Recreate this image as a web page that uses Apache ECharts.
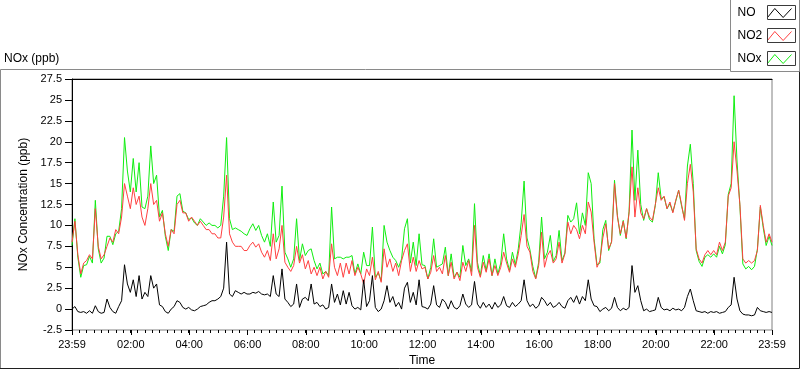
<!DOCTYPE html>
<html>
<head>
<meta charset="utf-8">
<script src="https://cdn.jsdelivr.net/npm/echarts@6/dist/echarts.min.js"></script>
<style>html,body{margin:0;padding:0;background:#fff}#c{width:800px;height:369px}</style>
</head>
<body>
<div id="c"></div>
<script>
// time axis: minutes since midnight; -1 = 23:59 of the previous day
const startMinute = -1;
const stepMinutes = 6;

const tickMinutes = [-1, 120, 240, 360, 480, 600, 720, 840, 960, 1080, 1200, 1320, 1439];
const tickLabels = ['23:59', '02:00', '04:00', '06:00', '08:00', '10:00', '12:00', '14:00', '16:00', '18:00', '20:00', '22:00', '23:59'];

const seriesNames = ['NO', 'NO2', 'NOx'];

const no = [
  0.0,0.3,-0.3,-0.4,-0.3,-0.5,-0.2,-0.5,0.4,-0.3,
  -0.5,-0.4,1.2,0.2,-0.3,-0.5,0.3,1.0,5.3,3.0,
  2.0,3.5,1.5,4.0,1.2,2.0,1.5,4.0,2.5,3.0,
  0.5,0.3,-0.3,-0.5,0.0,0.3,1.0,0.8,0.2,0.0,
  0.2,-0.1,-0.2,0.0,0.3,0.4,0.5,0.8,1.0,1.0,
  1.2,1.5,2.5,8.0,1.8,1.5,2.2,2.0,1.8,2.0,
  1.8,
  1.8,2.0,1.9,2.1,1.8,1.7,1.8,1.5,4.0,1.8,
  1.5,4.8,1.2,0.8,0.3,0.6,3.0,0.2,1.2,1.4,
  1.0,3.0,0.6,0.8,0.3,0.5,0.0,0.2,3.0,0.8,
  1.8,0.5,2.2,0.6,2.0,0.4,0.0,0.2,-0.1,3.5,
  0.3,1.0,4.0,0.2,-0.3,0.0,1.0,2.8,0.8,1.5,
  0.3,0.8,0.0,2.5,3.2,0.8,2.0,0.5,3.5,0.3,
  0.2,0.0,0.6,2.8,0.5,0.2,1.2,0.8,0.0,1.0,
  0.2,0.0,0.4,1.8,0.6,0.2,0.5,3.3,0.6,0.1,
  0.8,0.2,0.6,0.0,0.8,0.2,0.5,1.5,0.4,0.2,
  0.8,0.3,0.6,1.0,3.5,1.0,0.3,0.6,0.1,0.4,
  1.4,1.0,0.4,0.8,0.2,0.4,0.8,0.3,0.1,1.0,
  1.4,0.8,1.6,0.6,1.5,1.0,3.5,1.2,0.4,0.3,
  -0.3,0.0,0.2,-0.2,0.1,1.4,0.2,-0.2,0.1,-0.1,
  0.2,5.2,2.0,2.8,1.0,-0.2,0.0,-0.3,-0.2,-0.1,
  1.4,0.2,-0.1,0.0,-0.2,0.1,-0.1,0.0,-0.2,0.2,
  1.5,2.4,1.0,-0.2,-0.3,-0.4,-0.3,-0.5,-0.3,-0.4,
  -0.3,-0.5,-0.4,-0.3,0.2,0.5,3.8,1.2,-0.2,-0.6,
  -0.7,-0.7,-0.8,-0.7,0.2,-0.2,-0.3,-0.4,-0.3,-0.4
];

const no2 = [
  8.0,10.5,6.5,4.2,5.5,5.8,6.5,6.0,12.0,7.5,
  6.0,6.5,7.5,8.5,8.0,9.5,9.0,11.0,15.0,13.5,
  12.0,14.5,12.5,13.5,11.0,10.0,12.0,15.0,12.5,13.0,
  10.5,11.5,9.0,7.5,9.5,9.0,12.5,13.0,11.5,11.5,
  10.5,11.0,10.5,10.0,10.5,10.0,9.5,9.5,9.0,9.0,
  8.5,8.5,11.0,16.0,9.0,8.0,7.5,7.5,7.5,7.0,
  7.0,
  7.6,8.0,7.4,7.8,6.8,6.2,7.0,5.8,9.0,6.0,
  7.2,10.0,5.6,5.0,4.5,5.2,7.5,5.5,6.5,4.8,
  5.8,4.2,5.0,4.0,5.0,3.6,4.5,3.8,7.8,5.0,
  4.0,5.5,3.8,5.5,4.2,5.8,4.0,5.0,4.2,3.0,
  4.8,4.0,6.2,3.5,4.5,3.2,7.2,5.0,6.0,4.5,
  5.5,4.0,5.8,7.0,7.8,4.5,6.2,4.5,5.8,4.8,
  5.0,3.6,4.4,6.4,4.5,5.0,4.2,6.4,4.0,5.6,
  3.6,4.4,3.4,5.6,4.5,5.8,4.0,10.0,5.0,3.8,
  5.6,4.4,6.0,4.0,5.2,4.0,5.0,6.8,5.5,4.4,
  6.0,5.0,6.6,8.8,11.3,7.5,6.8,4.5,3.6,5.2,
  9.2,5.0,6.4,7.0,5.5,6.0,8.0,5.5,6.6,10.4,
  9.0,10.0,9.5,8.4,10.0,9.0,12.8,11.6,8.0,5.0,
  5.8,8.5,10.2,7.2,8.0,15.0,11.0,9.0,10.5,8.5,
  11.5,17.0,11.0,14.5,11.5,10.8,12.0,11.0,10.6,12.5,
  14.5,13.0,13.5,12.0,12.8,11.5,13.0,14.2,12.5,10.6,
  15.0,17.3,14.0,7.2,6.0,5.5,6.5,7.0,6.5,7.0,
  6.5,8.0,7.0,8.0,13.5,14.5,20.0,16.5,12.5,6.0,
  5.5,5.8,5.5,5.8,7.0,12.4,10.0,8.0,9.0,8.0
];

const nox = [
  7.6,10.8,6.2,3.8,5.2,5.3,6.3,5.5,13.0,7.2,
  5.5,6.1,8.7,8.7,7.7,9.0,9.3,12.0,20.5,16.5,
  14.0,18.0,14.0,17.5,12.2,12.0,13.5,19.5,15.0,16.0,
  11.0,11.8,8.7,7.0,9.5,9.3,13.5,13.8,11.7,11.5,
  10.7,10.9,10.3,10.0,10.8,10.4,10.0,10.3,10.0,10.0,
  9.7,10.0,13.5,20.5,10.8,9.5,9.7,9.5,9.3,9.0,
  8.8,
  9.6,10.2,9.4,10.0,8.8,8.0,9.0,7.5,12.8,8.0,
  8.8,14.7,6.8,6.0,5.0,6.0,10.8,5.8,7.8,6.4,
  7.0,7.2,5.8,4.8,5.5,4.2,4.5,4.0,12.2,6.0,
  6.2,6.2,6.0,6.2,6.2,6.4,4.2,5.4,4.2,6.8,
  5.2,5.2,9.8,3.8,4.3,3.4,10.0,8.0,7.0,6.2,
  5.8,5.0,6.0,9.6,10.8,5.5,8.0,5.2,9.0,5.3,
  5.2,3.6,5.0,8.4,5.0,5.2,5.4,7.4,4.0,6.6,
  3.8,4.4,3.8,7.6,5.2,6.0,4.5,12.6,5.6,4.0,
  6.4,4.6,6.6,4.0,6.0,4.2,5.5,9.0,6.0,4.6,
  6.8,5.3,7.2,10.3,15.3,8.5,7.1,5.1,3.7,5.6,
  11.0,6.0,6.8,8.8,5.7,6.4,9.4,5.8,6.7,11.2,
  10.4,10.8,12.7,9.0,11.5,10.0,16.3,15.0,8.4,5.3,
  5.5,9.5,10.6,7.0,8.1,15.4,11.2,8.8,10.6,8.4,
  11.7,21.4,13.0,19.0,12.5,10.6,12.0,10.7,10.4,12.4,
  16.3,13.2,13.4,12.0,12.6,11.6,12.9,14.2,12.3,10.8,
  17.1,19.7,15.0,7.0,5.7,5.1,6.2,6.5,6.2,6.6,
  6.2,7.5,6.6,7.7,13.7,15.0,25.5,17.7,12.3,5.4,
  4.8,5.1,4.7,5.1,7.2,12.2,9.7,7.6,8.7,7.6
];

const FONT = '"Liberation Sans", Arial, sans-serif';
const colors = { NO: '#000000', NO2: '#ff4040', NOx: '#10ee10' };

const toPairs = arr => arr.map((v, i) => [startMinute + i * stepMinutes, v]);

const minorTicks = [];
for (let m = startMinute; m <= 1439; m += 15) minorTicks.push(m);

const labelFor = v => {
  const k = tickMinutes.indexOf(v);
  return k >= 0 ? tickLabels[k] : '';
};

// plot geometry
const G = { left: 72, right: 28, top: 79, bottom: 39 };
// legend geometry
const LEG = { right: 6, top: 6, iconW: 24, iconH: 9, rowH: 14, gap: 9 };

const legendBoxes = seriesNames.map((n, k) => {
  const cy = LEG.top + LEG.rowH / 2 + k * (LEG.rowH + LEG.gap);
  const x1 = 800 - LEG.right - LEG.iconW - 2.5;
  return {
    type: 'rect', silent: true, z: 50,
    shape: { x: x1, y: Math.round(cy) - 7.5, width: LEG.iconW + 4, height: 14 },
    style: { fill: 'none', stroke: '#3a3a3a', lineWidth: 1 }
  };
});

const chart = echarts.init(document.getElementById('c'), null, { renderer: 'canvas' });

const axisText = { fontFamily: FONT, fontSize: 11, color: '#000' };
const gridBox = { left: G.left, right: G.right, top: G.top, bottom: G.bottom, containLabel: false, outerBoundsMode: 'none' };

chart.setOption({
  animation: false,
  backgroundColor: '#ffffff',
  title: {
    text: 'NOx (ppb)', left: 4, top: 53, padding: 0,
    textStyle: { fontFamily: FONT, fontSize: 12, fontWeight: 'normal', color: '#000' }
  },
  grid: [
    Object.assign({ show: true, borderColor: '#808080', borderWidth: 1, backgroundColor: '#fff' }, gridBox),
    Object.assign({ show: false }, gridBox)
  ],
  legend: {
    orient: 'vertical', right: LEG.right, top: LEG.top, padding: 0,
    align: 'right', itemWidth: LEG.iconW, itemHeight: LEG.iconH, itemGap: LEG.gap,
    symbolKeepAspect: false, selectedMode: false,
    formatter: '{n|{name}}',
    textStyle: {
      fontFamily: FONT, fontSize: 12, color: '#000',
      rich: { n: { width: 25, align: 'left', fontFamily: FONT, fontSize: 12, lineHeight: LEG.rowH, color: '#000' } }
    },
    data: seriesNames.map(n => ({
      name: n,
      icon: 'path://M0,9 L7,1 L15,9 L23,1',
      itemStyle: { color: 'none', borderColor: colors[n], borderWidth: 1 }
    }))
  },
  graphic: [
    { type: 'polyline', silent: true, shape: { points: [[0.5, 368.5], [0.5, 69.5], [730.5, 69.5]] }, style: { stroke: '#8a8a8a', fill: 'none', lineWidth: 1 } },
    { type: 'polyline', silent: true, shape: { points: [[0, 368.5], [799.5, 368.5], [799.5, 0]] }, style: { stroke: '#202020', fill: 'none', lineWidth: 1 } },
    { type: 'rect', silent: true, shape: { x: 730.5, y: -0.5, width: 69, height: 72 }, style: { stroke: '#8a8a8a', fill: 'none', lineWidth: 1 } }
  ].concat(legendBoxes),
  xAxis: [
    {
      type: 'value', gridIndex: 0, min: -1, max: 1439, position: 'bottom',
      name: 'Time', nameLocation: 'middle', nameGap: 25,
      nameTextStyle: { fontFamily: FONT, fontSize: 12, color: '#000' },
      axisLine: { show: false, onZero: false }, splitLine: { show: false },
      axisTick: { show: true, customValues: tickMinutes, length: 5, lineStyle: { color: '#000', width: 1 } },
      axisLabel: Object.assign({ customValues: tickMinutes, formatter: labelFor, margin: 9, showMinLabel: true, showMaxLabel: true }, axisText)
    },
    {
      type: 'value', gridIndex: 0, min: -1, max: 1439, position: 'top',
      axisLine: { show: true, onZero: false, lineStyle: { color: '#000', width: 1 } },
      axisTick: { show: false }, axisLabel: { show: false }, splitLine: { show: false }
    },
    {
      type: 'value', gridIndex: 1, min: -1, max: 1439, position: 'bottom',
      axisLine: { show: false, onZero: false }, splitLine: { show: false }, axisLabel: { show: false },
      axisTick: { show: true, customValues: minorTicks, length: 3, lineStyle: { color: '#000', width: 1 } }
    }
  ],
  yAxis: [
    {
      type: 'value', gridIndex: 0, min: -2.5, max: 27.5, interval: 2.5,
      name: 'NOx Concentration (ppb)', nameLocation: 'middle', nameGap: 32, nameRotate: 90,
      nameTextStyle: { fontFamily: FONT, fontSize: 12, color: '#000' },
      axisLine: { show: true, onZero: false, lineStyle: { color: '#000', width: 1 } },
      axisTick: { show: true, length: 7, lineStyle: { color: '#000', width: 1 } },
      axisLabel: Object.assign({ margin: 10 }, axisText),
      splitLine: { show: false }
    },
    {
      type: 'value', gridIndex: 1, min: -2.5, max: 27.5, interval: 2.5, show: false
    }
  ],
  series: [
    { name: 'NOx', type: 'line', xAxisIndex: 0, yAxisIndex: 0, data: toPairs(nox), showSymbol: false, symbol: 'none',
      color: colors.NOx, lineStyle: { color: colors.NOx, width: 1 }, emphasis: { disabled: true } },
    { name: 'NO2', type: 'line', xAxisIndex: 0, yAxisIndex: 0, data: toPairs(no2), showSymbol: false, symbol: 'none',
      color: colors.NO2, lineStyle: { color: colors.NO2, width: 1 }, emphasis: { disabled: true } },
    { name: 'NO', type: 'line', xAxisIndex: 0, yAxisIndex: 0, data: toPairs(no), showSymbol: false, symbol: 'none',
      color: colors.NO, lineStyle: { color: colors.NO, width: 1 }, emphasis: { disabled: true } }
  ]
});
</script>
</body>
</html>
